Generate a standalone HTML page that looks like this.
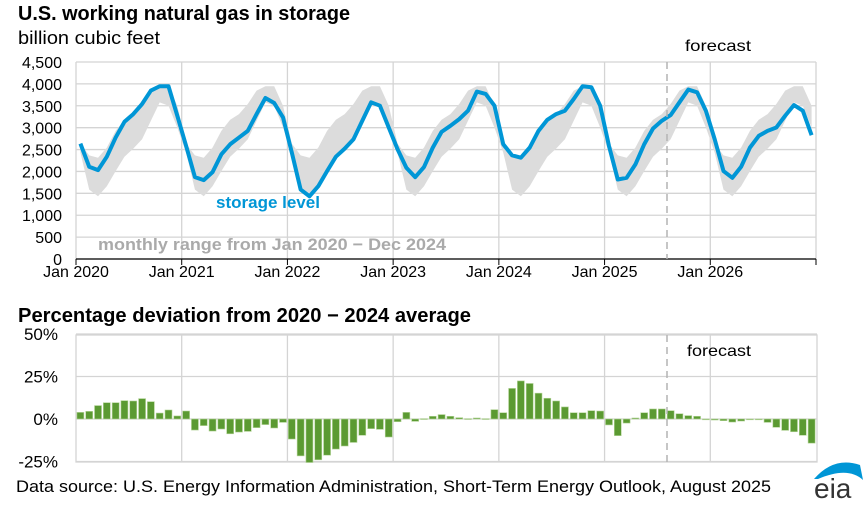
<!DOCTYPE html>
<html><head><meta charset="utf-8"><style>
body{margin:0;background:#fff;}
svg{display:block;font-family:"Liberation Sans",Arial,sans-serif;}
</style></head><body>
<svg id="s" width="868" height="508" xmlns="http://www.w3.org/2000/svg">
<text x="18" y="20" font-size="20" font-weight="bold" fill="#000" textLength="332" lengthAdjust="spacingAndGlyphs">U.S. working natural gas in storage</text>
<text x="18" y="44" font-size="18" fill="#000" textLength="142" lengthAdjust="spacingAndGlyphs">billion cubic feet</text>
<g id="g"></g>
<text x="685" y="51" font-size="16" fill="#000" textLength="66" lengthAdjust="spacingAndGlyphs">forecast</text>
<text x="216" y="208" font-size="17" font-weight="bold" fill="#0096d6">storage level</text>
<text x="98" y="250" font-size="17" font-weight="bold" fill="#aaa" textLength="348" lengthAdjust="spacingAndGlyphs">monthly range from Jan 2020 − Dec 2024</text>
<text x="18" y="322" font-size="20" font-weight="bold" fill="#000" textLength="453" lengthAdjust="spacingAndGlyphs">Percentage deviation from 2020 − 2024 average</text>
<text x="687" y="356" font-size="16" fill="#000" textLength="64" lengthAdjust="spacingAndGlyphs">forecast</text>
<text x="16" y="492" font-size="17" fill="#000" textLength="755" lengthAdjust="spacingAndGlyphs">Data source: U.S. Energy Information Administration, Short-Term Energy Outlook, August 2025</text>
<path d="M814 479 Q834 456 860 465 L863 480 Q848 466 818 479 Z" fill="#0096d6"/>
<text x="814" y="498" font-size="28" fill="#333">eia</text>
</svg>
<script>
var S=[2636,2107,2030,2337,2774,3134,3310,3540,3847,3946,3946,3272,
2582,1870,1801,1985,2391,2621,2774,2927,3310,3678,3563,3234,
2429,1586,1433,1663,2008,2337,2521,2736,3157,3579,3502,3004,
2506,2084,1870,2100,2544,2904,3042,3195,3387,3824,3770,3502,
2621,2368,2314,2544,2927,3180,3310,3387,3655,3946,3923,3502,
2582,1816,1854,2161,2621,2981,3157,3287,3579,3870,3808,3387,
2736,2008,1854,2107,2544,2812,2927,3004,3272,3517,3387,2828];
var D=[3.9,4.5,7.9,9.6,9.6,10.8,10.6,12,10.2,3.5,5.3,1.8,
4.7,-6.5,-3.9,-7.1,-5.9,-8.7,-7.7,-7.3,-5.1,-3.3,-5.3,-2,
-11.8,-21.7,-25.6,-24,-21.3,-17.7,-15.9,-13.8,-9.6,-5.7,-6.1,-10.6,
-1.6,3.9,-1.4,0.2,1.6,2.6,1.6,0.8,0.2,0.6,0.2,5.5,
3.7,18,22.4,20.9,15.2,12.2,10.6,7.1,3.7,3.7,4.9,4.7,
-3.5,-9.8,-2.4,0.6,3.7,5.9,5.9,4.9,3.1,2,1.6,-0.4,
-0.6,-1,-1.8,-1.2,-0.4,-0.2,-2,-4.9,-6.7,-7.5,-9.6,-14.2];
var L=76,R=816,W=(R-L)/84,h='';
function X(i){return L+W*(i+0.5);}
function Y(v){return 259-v*197/4500;}
for(var k=0;k<=9;k++){var y=Y(k*500);h+='<line x1="'+L+'" x2="'+R+'" y1="'+y+'" y2="'+y+'" stroke="#d4d4d4" stroke-width="1.3"/>';
h+='<text x="62" y="'+(y+6)+'" font-size="16" text-anchor="end">'+(k*500).toLocaleString('en-US')+'</text>';}
var yrs=['Jan 2020','Jan 2021','Jan 2022','Jan 2023','Jan 2024','Jan 2025','Jan 2026'];
for(var k=0;k<=7;k++){var x=L+k*12*W;h+='<line x1="'+x+'" x2="'+x+'" y1="62" y2="259" stroke="#d4d4d4" stroke-width="1.3"/>';
h+='<line x1="'+x+'" x2="'+x+'" y1="259" y2="265" stroke="#000"/>';
if(k<7)h+='<text x="'+x+'" y="277" font-size="16" text-anchor="middle">'+yrs[k]+'</text>';}
h+='<line x1="'+L+'" x2="'+R+'" y1="259" y2="259" stroke="#000" stroke-width="1.3"/>';
var mn=[],mx=[];for(var m=0;m<12;m++){var a=[];for(var y=0;y<5;y++)a.push(S[y*12+m]);mn.push(Math.min.apply(0,a));mx.push(Math.max.apply(0,a));}
var up='',dn='';for(var i=0;i<84;i++){up+=(i?'L':'M')+X(i)+' '+Y(mx[i%12]);}
for(var i=83;i>=0;i--){dn+='L'+X(i)+' '+Y(mn[i%12]);}
h+='<path d="'+up+dn+'Z" fill="#dcdcdc"/>';
var p='';for(var i=0;i<84;i++)p+=(i?'L':'M')+X(i)+' '+Y(S[i]);
h+='<path d="'+p+'" fill="none" stroke="#0096d6" stroke-width="4" stroke-linejoin="round"/>';
h+='<line x1="667" x2="667" y1="62" y2="259" stroke="#b4b4b4" stroke-width="1.5" stroke-dasharray="7,5"/>';
var B0=419,PS=1.7,R2=817;
h+='<rect x="'+L+'" y="335" width="'+(R2-L)+'" height="127" fill="none" stroke="#d4d4d4" stroke-width="1.3"/>';
[50,25,0,-25].forEach(function(v){var y=B0-v*PS;h+='<line x1="'+L+'" x2="'+R2+'" y1="'+y+'" y2="'+y+'" stroke="#d4d4d4" stroke-width="1.3"/>';
h+='<text x="58" y="'+(y+6)+'" font-size="17" text-anchor="end">'+v+'%</text>';});
for(var k=1;k<7;k++){var x=L+k*12*W;h+='<line x1="'+x+'" x2="'+x+'" y1="335" y2="462" stroke="#d4d4d4" stroke-width="1.3"/>';}
for(var i=0;i<84;i++){var v=D[i],y=v>=0?B0-v*PS:B0,hh=Math.abs(v)*PS;
h+='<rect x="'+(L+W*i+0.9)+'" y="'+y+'" width="'+(W-1.8)+'" height="'+Math.max(hh,0.8)+'" fill="#5b9a32" stroke="#b5d59a" stroke-width="0.6"/>';}
h+='<line x1="667" x2="667" y1="335" y2="462" stroke="#b4b4b4" stroke-width="1.5" stroke-dasharray="7,5"/>';
var g=document.createElementNS('http://www.w3.org/2000/svg','g');g.innerHTML=h;
document.getElementById('g').appendChild(g);
</script>
</body></html>
